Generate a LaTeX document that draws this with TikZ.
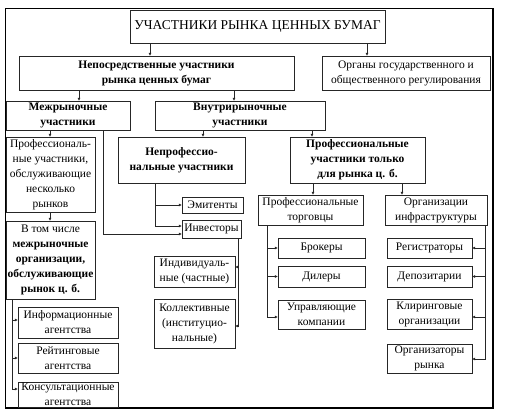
\documentclass[tikz,border=0pt]{standalone}
\usepackage{fontspec}
\setmainfont{Liberation Serif}
\usetikzlibrary{arrows.meta}
\newcommand\bx[7][]{\node[box,#1,minimum width={#5-#3},minimum height={#6-#4}] (#2) at ({(#3+#5)/2},{(#4+#6)/2}) {#7};}
\begin{document}
\begin{tikzpicture}[x=1pt,y=-1pt,
  box/.style={draw=black!85, line width=0.7pt, inner sep=0pt, outer sep=0pt, align=center, font=\fontsize{11.5}{15}\selectfont},
  bb/.style={font=\fontsize{11.5}{15}\selectfont\bfseries},
  ttl/.style={font=\fontsize{13.5}{16}\selectfont},
  arr/.style={draw=black!85, line width=0.7pt, -{Latex[length=3.2pt,width=3pt]}}]
\useasboundingbox (0,0) rectangle (506,415);
\draw[line width=0.6pt] (5,8) rectangle (493,408);
\draw[line width=1.4pt] (493,9) -- (493,408) -- (6,408);
% boxes
\bx[ttl]{title}{130}{10}{385}{43}{УЧАСТНИКИ РЫНКА ЦЕННЫХ БУМАГ}
\bx[bb]{nep}{19}{56}{294}{90}{Непосредственные участники\\рынка ценных бумаг}
\bx{org}{322}{56}{490}{90}{Органы государственного и\\общественного регулирования}
\bx[bb]{mezh}{6}{101}{130}{130}{Межрыночные\\участники}
\bx[bb]{vnut}{155}{101}{325}{130}{Внутрирыночные\\участники}
\bx{profmn}{6}{137}{95}{212}{Профессиональ-\\ные участники,\\обслуживающие\\несколько\\рынков}
\bx{vtom}{6}{221}{95}{299}{В том числе\\\textbf{межрыночные}\\\textbf{организации,}\\\textbf{обслуживающие}\\\textbf{рынок ц. б.}}
\bx{info}{18}{307}{118}{338}{Информационные\\агентства}
\bx{reit}{18}{343}{118}{373}{Рейтинговые\\агентства}
\bx{kons}{18}{382}{118}{407}{Консультационные\\агентства}
\bx[bb]{neprof}{118}{137}{245}{183}{Непрофессио-\\нальные участники}
\bx{emit}{182}{197}{243}{213}{Эмитенты}
\bx{invest}{182}{220}{241}{238}{Инвесторы}
\bx{indiv}{154}{256}{235}{287}{Индивидуаль-\\ные (частные)}
\bx{koll}{154}{299}{235}{348}{Коллективные\\(институцио-\\нальные)}
\bx[bb]{profonly}{290}{137}{425}{183}{Профессиональные\\участники только\\для рынка ц. б.}
\bx{torg}{258}{195}{363}{225}{Профессиональные\\торговцы}
\bx{infra}{385}{195}{487}{225}{Организации\\инфраструктуры}
\bx{brok}{278}{238}{365}{258}{Брокеры}
\bx{dil}{278}{266}{365}{287}{Дилеры}
\bx{upr}{278}{300}{365}{329}{Управляющие\\компании}
\bx{reg}{387}{238}{472}{258}{Регистраторы}
\bx{dep}{387}{266}{472}{287}{Депозитарии}
\bx{klir}{387}{299}{472}{329}{Клиринговые\\организации}
\bx{orgr}{387}{344}{472}{373}{Организаторы\\рынка}
% connectors
\draw[arr] (title.south -| 150,0) -- (nep.north -| 150,0);
\draw[arr] (title.south -| 367,0) -- (org.north -| 367,0);
\draw[arr] (nep.south -| 79,0) -- (mezh.north -| 79,0);
\draw[arr] (nep.south -| 234,0) -- (vnut.north -| 234,0);
\draw[arr] (mezh.south -| 50,0) -- (profmn.north -| 50,0);
\draw[arr] (profmn.south -| 50,0) -- (vtom.north -| 50,0);
\draw[arr] (mezh.south -| 103,0) |- (invest.west |- 0,234);
\draw[arr] (vnut.south -| 203,0) -- (neprof.north -| 203,0);
\draw[arr] (vnut.south -| 312,0) -- (profonly.north -| 312,0);
\draw[arr] (neprof.south -| 155,0) |- (emit.west);
\draw[arr] (neprof.south -| 155,0) |- (invest.west |- 0,226);
\draw[arr] (invest.south -| 238,0) |- (indiv.east |- 0,267);
\draw[arr] (invest.south -| 238,0) |- (koll.east |- 0,326);
\draw[arr] (vtom.south -| 12,0) |- (info.west |- 0,320);
\draw[arr] (vtom.south -| 12,0) |- (reit.west |- 0,358);
\draw[arr] (vtom.south -| 12,0) |- (kons.west |- 0,389);
\draw[arr] (profonly.south -| 313,0) -- (torg.north -| 313,0);
\draw[arr] (profonly.south -| 402,0) -- (infra.north -| 402,0);
\draw[arr] (torg.south -| 267,0) |- (brok.west);
\draw[arr] (torg.south -| 267,0) |- (dil.west);
\draw[arr] (torg.south -| 267,0) |- (upr.west |- 0,317);
\draw[arr] (infra.south -| 485,0) |- (reg.east);
\draw[arr] (infra.south -| 485,0) |- (dep.east);
\draw[arr] (infra.south -| 485,0) |- (klir.east |- 0,317);
\draw[arr] (infra.south -| 485,0) |- (orgr.east |- 0,359);
\end{tikzpicture}
\end{document}
